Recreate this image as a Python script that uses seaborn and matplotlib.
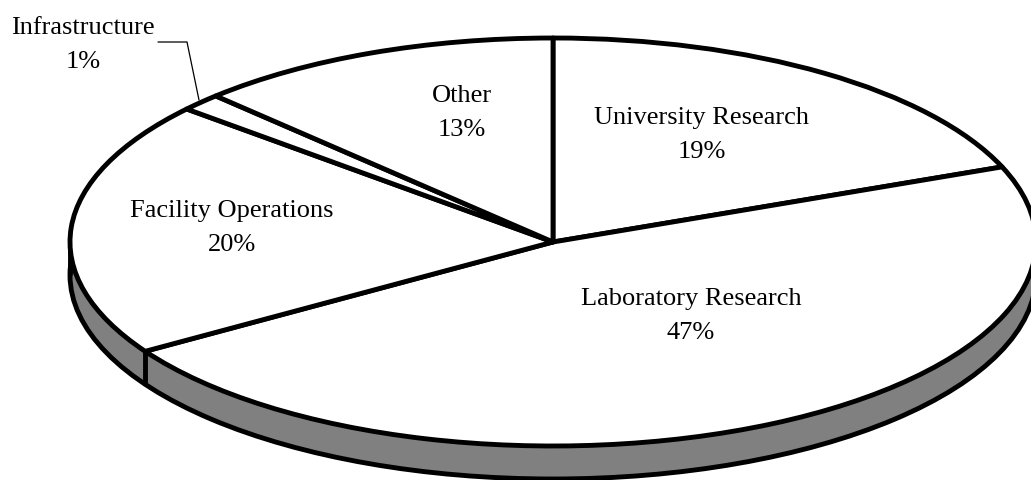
"""
3D style pie : budget shares
"""

import numpy as np
import matplotlib

matplotlib.use("Agg")
import matplotlib.pyplot as plt
import seaborn as sns

categories = [
    "University Research",
    "Laboratory Research",
    "Facility Operations",
    "Infrastructure",
    "Other",
]
shares = [19.0, 47.0, 20.3, 1.4, 12.3]
share_labels = ["19%", "47%", "20%", "1%", "13%"]

W, H = 1031, 481
CX, CY = 553, 243
RX, RY = 483, 204
DEPTH = 33 / RY
LW = 3.5
GREY = "#808080"

sns.set_theme(style="white")
plt.rcParams["font.family"] = ["Liberation Serif", "DejaVu Serif"]


def px(x, y):
    # pixel position in the picture -> data units of the unit circle
    return (x - CX) / RX, (CY - y) / RY


fig = plt.figure(figsize=(W / 100, H / 100), dpi=100)
ax = fig.add_axes([0, 0, 1, 1])

# lower disc and wall
ax.add_patch(plt.Circle((0, -DEPTH), 1, fc=GREY, ec="black", lw=LW, zorder=1))
ax.fill_between([-1, 1], [0, 0], [-DEPTH, -DEPTH], color=GREY, lw=0, zorder=2)
ax.vlines([-1, 1], -DEPTH, 0, color="black", lw=LW, zorder=3)

# wall seam under the edge between the two big front slices
seam = np.deg2rad(90 - 360 * sum(shares[:2]) / sum(shares))
ax.vlines(np.cos(seam), np.sin(seam) - DEPTH, np.sin(seam), color="black", lw=LW, zorder=3)

# top disc
wedges, _ = ax.pie(
    shares,
    startangle=90,
    counterclock=False,
    colors=["white"],
    wedgeprops={"edgecolor": "black", "linewidth": LW, "joinstyle": "round"},
)
for w in wedges:
    w.set_zorder(4)

ax.set_aspect("auto")
ax.set_xlim(px(0, 0)[0], px(W, 0)[0])
ax.set_ylim(px(0, H)[1], px(0, 0)[1])
ax.axis("off")

label_pos = [(702, 135), (691, 316), (232, 228), (83, 45), (462, 113)]
for name, pct, pos in zip(categories, share_labels, label_pos):
    x, y = px(*pos)
    ax.text(
        x, y, f"{name}\n{pct}",
        ha="center", va="center", fontsize=19, color="black",
        linespacing=1.72, zorder=6,
    )

# leader line for the thin slice
leader = [px(158, 43), px(187, 43), px(199, 101)]
ax.plot([p[0] for p in leader], [p[1] for p in leader], color="black", lw=0.9, zorder=5)

fig.savefig("out.png", dpi=100, facecolor="white")
